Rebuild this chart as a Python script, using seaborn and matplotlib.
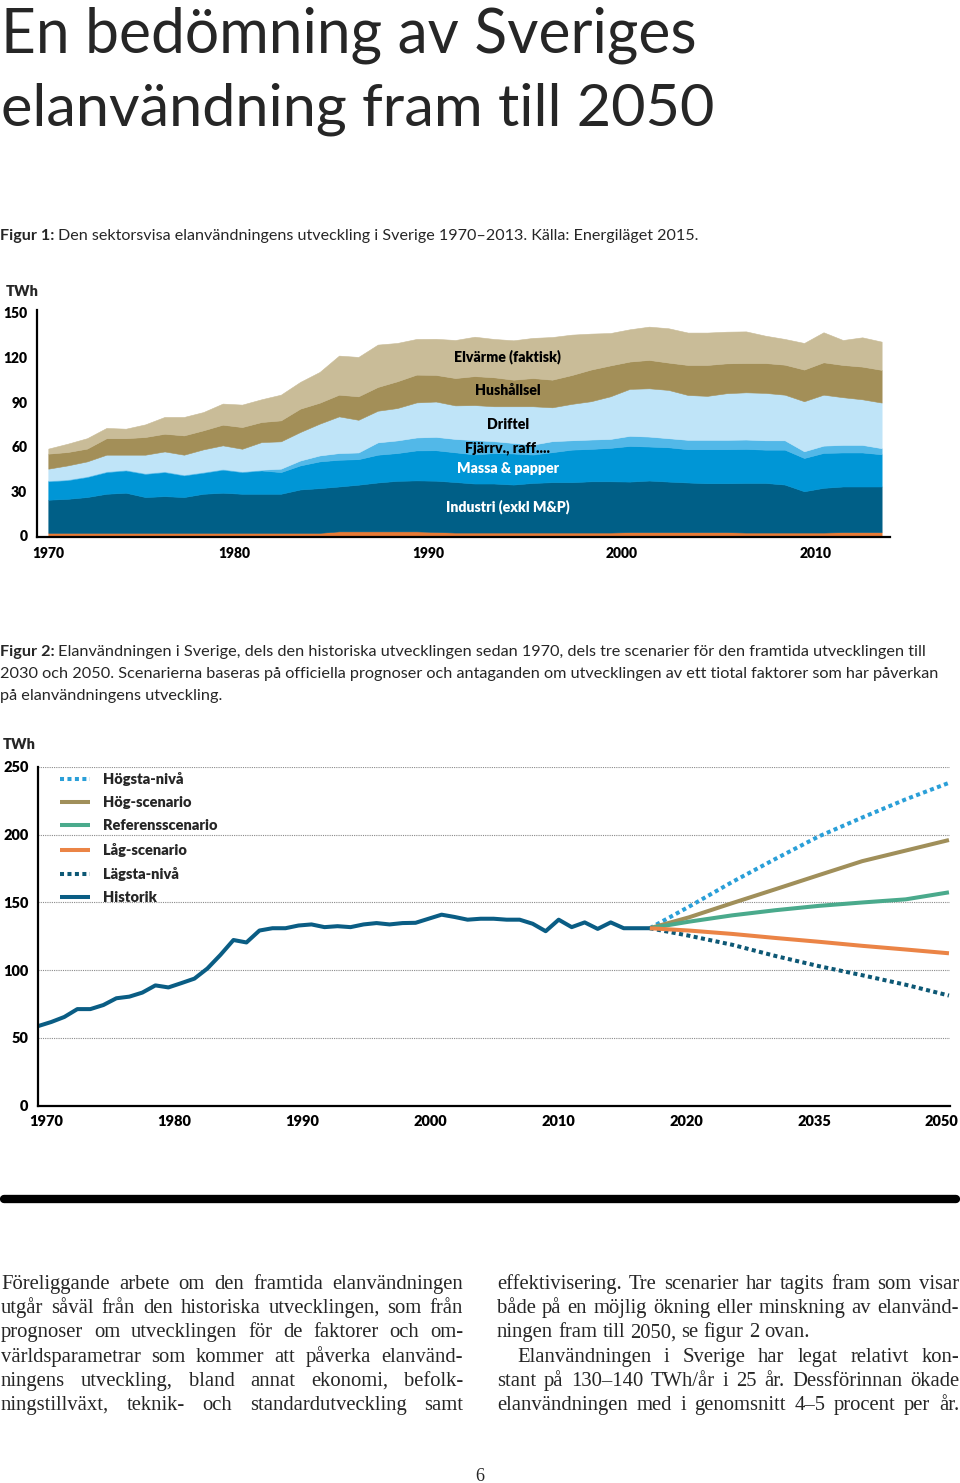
import numpy as np
import pandas as pd
import matplotlib
matplotlib.use('Agg')
import matplotlib.pyplot as plt
import matplotlib.transforms as mtransforms
from matplotlib.lines import Line2D
import seaborn as sns

W, H = 960, 1483

# ---------- Figur 1: sektorsvis elanvändning 1970-2013 (TWh) ----------
years1 = list(range(1970, 2014))
ovrigt = [2.0] * 15 + [3.0] * 5 + [2.6] + [2.2] * 9 + [2.5] * 6 + [2.2] * 5 + [2.5] * 3
industri = [22.3, 22.9, 24.1, 26.3, 27.0, 24.1, 24.7, 24.1, 26.3, 27.0,
            26.3, 26.3, 26.3, 29.2, 30.1, 30.2, 31.4, 32.9, 34.0, 34.3,
            34.5, 34.0, 33.0, 33.0, 32.3, 33.4, 33.9, 33.9, 34.5, 34.5,
            34.0, 34.7, 34.0, 33.4, 32.9, 32.9, 33.4, 33.4, 32.3, 27.8,
            30.1, 30.7, 30.7, 30.7]
massa_papper = [12.4, 12.6, 13.5, 14.6, 15.0, 15.6, 16.2, 14.6, 14.2, 15.5,
                14.6, 15.7, 14.6, 16.2, 18.0, 18.0, 17.2, 18.7, 18.7, 20.2,
                20.5, 20.0, 19.6, 20.5, 20.9, 19.1, 20.2, 21.9, 21.8, 22.5,
                24.0, 22.9, 23.1, 22.4, 22.9, 22.9, 22.9, 22.4, 23.5, 22.4,
                23.5, 22.9, 22.9, 21.7]
fjarrv_raff = [0.5] * 12 + [2.3, 3.3, 4.0, 4.5, 4.5, 8.3, 8.5, 8.7,
               9.0, 9.0, 9.6, 8.0, 7.1, 6.7, 7.4, 6.3, 6.3, 6.0,
               6.8, 6.7, 6.1, 6.3, 6.3, 6.3, 6.3, 6.3, 6.3, 4.5,
               4.9, 5.1, 5.1, 4.1]
driftel = [8.0, 9.4, 10.0, 11.2, 10.1, 12.4, 13.4, 13.4, 15.2, 15.9,
           15.2, 18.6, 18.4, 19.2, 21.4, 24.7, 22.0, 21.3, 21.8, 23.6,
           23.8, 22.6, 23.6, 23.5, 24.7, 25.8, 22.8, 24.5, 25.8, 28.7,
           31.6, 32.5, 32.5, 30.2, 29.6, 31.4, 31.8, 31.9, 30.7, 33.7,
           34.3, 32.1, 30.7, 30.7]
hushallsel = [10.1, 9.0, 8.6, 11.1, 11.1, 11.9, 11.9, 13.0, 12.8, 13.9,
              14.6, 13.5, 14.1, 15.7, 14.1, 14.6, 15.8, 16.0, 18.0, 18.7,
              17.9, 18.4, 19.5, 19.5, 17.9, 19.0, 18.6, 19.4, 21.3, 20.8,
              18.4, 19.1, 18.4, 20.2, 20.8, 20.1, 19.7, 20.1, 20.2, 21.3,
              21.8, 21.7, 22.0, 22.0]
elvarme = [3.4, 5.6, 7.0, 6.9, 6.4, 8.5, 11.3, 12.4, 12.3, 14.2,
           15.1, 15.3, 17.3, 18.0, 20.7, 26.3, 26.5, 28.5, 25.8, 24.0,
           24.3, 25.6, 26.5, 25.8, 26.5, 27.0, 28.7, 27.2, 24.2, 21.8,
           21.7, 22.4, 23.1, 21.8, 21.8, 21.3, 21.3, 18.4, 17.3, 17.9,
           20.2, 16.8, 19.7, 19.0]
sektor_namn = ['Övrigt', 'Industri (exkl M&P)', 'Massa & papper',
               'Fjärrv., raff....', 'Driftel', 'Hushållsel', 'Elvärme (faktisk)']
sektor_farg = ['#e87a35', '#005f87', '#0096d6', '#52b8e8', '#bfe4f8',
               '#a38f58', '#c9bc98']
x1_ticks = [1970, 1980, 1990, 2000, 2010]

# ---------- Figur 2: historik och scenarier (TWh) ----------
hist_years = list(range(1970, 2018))
historik = [58.8, 61.8, 65.5, 71.3, 71.3, 74.3, 79.3, 80.5, 83.5, 88.8,
            87.3, 90.5, 93.8, 101.3, 111.3, 122.3, 120.5, 129.3, 131.0, 131.0,
            133.0, 133.8, 131.8, 132.5, 131.8, 133.8, 134.8, 133.8, 134.8, 135.0,
            138.0, 141.0, 139.3, 137.3, 138.0, 138.0, 137.3, 137.3, 134.3, 128.8,
            137.3, 131.8, 135.3, 130.5, 135.3, 131.0, 131.0, 131.0]
scen_years = [2017, 2020, 2025, 2030, 2035, 2040, 2045, 2050]
hogsta = [131.0, 146.8, 165.1, 182.2, 198.8, 212.7, 226.1, 238.3]
hog = [131.0, 139.0, 149.5, 159.8, 170.2, 180.5, 188.3, 196.1]
referens = [131.0, 135.8, 140.5, 144.3, 147.5, 150.0, 152.3, 157.5]
lag = [131.0, 129.3, 126.8, 123.8, 121.0, 118.0, 115.3, 112.5]
lagsta = [131.0, 125.5, 118.8, 110.5, 103.0, 96.3, 89.3, 81.3]
x2_ticks = [1970, 1980, 1990, 2000, 2010, 2020, 2035, 2050]

sns.set_theme(style='white')
plt.rcParams['font.family'] = ['Lato', 'DejaVu Sans']
plt.rcParams['axes.linewidth'] = 1.5
SERIF = ['Liberation Serif', 'DejaVu Serif']
HEAVY = 'heavy'

fig = plt.figure(figsize=(W / 100, H / 100), dpi=100)
renderer = fig.canvas.get_renderer()


def fx(x):
    return x / W


def fy(y):
    return 1 - y / H


def width_of(t):
    return t.get_window_extent(renderer).width


def fit_text(x, y, s, right, size=10, **kw):
    t = fig.text(fx(x), fy(y), s, fontsize=size, va='baseline', **kw)
    t.set_fontsize(size * (right - x) / width_of(t))
    return t


def caption(x, y, bold, rest, size):
    b = fig.text(fx(x), fy(y), bold, fontsize=size, weight='bold', va='baseline')
    wb = width_of(b)
    fig.text(fx(x + wb + size * 0.3), fy(y), rest, fontsize=size, va='baseline')


def shift_labels(labels, offsets):
    for lab, dx in zip(labels, offsets):
        lab.set_transform(lab.get_transform() +
                          mtransforms.ScaledTranslation(dx / 100, 0, fig.dpi_scale_trans))


# ---------- title ----------
fit_text(1, 52, 'En bedömning av Sveriges', 697, weight='normal')
fit_text(1, 125, 'elanvändning fram till 2050', 714, weight='normal')

# ---------- Figur 1 ----------
probe = fig.text(0, 0, 'Figur 1: Den sektorsvisa elanvändningens utveckling i Sverige '
                 '1970–2013. Källa: Energiläget 2015.', fontsize=10)
cap_size = 10 * 697 / width_of(probe)
probe.remove()
caption(0, 240, 'Figur 1:', 'Den sektorsvisa elanvändningens utveckling i Sverige '
        '1970–2013. Källa: Energiläget 2015.', cap_size)

px_year1 = 19.38
ax1 = fig.add_axes([fx(37), fy(537), (890 - 37) / W, (537 - 310) / H])
df1 = pd.DataFrame({'år': years1, 'Övrigt': ovrigt, 'Industri (exkl M&P)': industri,
                    'Massa & papper': massa_papper, 'Fjärrv., raff....': fjarrv_raff,
                    'Driftel': driftel, 'Hushållsel': hushallsel,
                    'Elvärme (faktisk)': elvarme})
ax1.stackplot(df1['år'], *[df1[c] for c in sektor_namn], colors=sektor_farg,
              edgecolor='face', linewidth=0.4)
ax1.set_xlim(1970 - 11.3 / px_year1, 1970 + (890 - 48.3) / px_year1)
ax1.set_ylim(-0.8, 152)
ax1.set_yticks([0, 30, 60, 90, 120, 150])
ax1.set_xticks(x1_ticks)
ax1.tick_params(axis='both', length=0, labelsize=10, colors='black')
ax1.tick_params(axis='y', pad=7)
ax1.tick_params(axis='x', pad=7)
for lab in ax1.get_xticklabels() + ax1.get_yticklabels():
    lab.set_fontweight(HEAVY)
shift_labels(ax1.get_xticklabels(), [0, -8, -8, -8, -8])
for s in ['top', 'right']:
    ax1.spines[s].set_visible(False)
for s in ['left', 'bottom']:
    ax1.spines[s].set_color('black')
    ax1.spines[s].set_linewidth(1.6)
ax1.set_facecolor('none')
lab_x = 1993.7
for txt, yv, col in [('Elvärme (faktisk)', 120.4, 'black'), ('Hushållsel', 97.5, 'black'),
                     ('Driftel', 74.6, 'black'), ('Fjärrv., raff....', 59.2, 'black'),
                     ('Massa & papper', 45.0, 'white'), ('Industri (exkl M&P)', 19.5, 'white')]:
    ax1.text(lab_x, yv, txt, ha='center', va='center', fontsize=10.2,
             weight=HEAVY, color=col)
fig.text(fx(6), fy(291), 'TWh', fontsize=10.5, weight=HEAVY, va='center')

# ---------- Figur 2 ----------
cap2 = [('Figur 2:', 'Elanvändningen i Sverige, dels den historiska utvecklingen sedan 1970, '
         'dels tre scenarier för den framtida utvecklingen till'),
        ('', '2030 och 2050. Scenarierna baseras på officiella prognoser och antaganden om '
         'utvecklingen av ett tiotal faktorer som har påverkan'),
        ('', 'på elanvändningens utveckling.')]
probe = fig.text(0, 0, cap2[1][1], fontsize=10)
cap2_size = 10 * 940 / width_of(probe)
probe.remove()
for i, (b, r) in enumerate(cap2):
    yy = 656 + 22 * i
    if b:
        caption(0, yy, b, r, cap2_size)
    else:
        fig.text(0, fy(yy), r, fontsize=cap2_size, va='baseline')


def fwd(yr):
    yr = np.asarray(yr, dtype=float)
    return np.where(yr <= 2020, yr - 1970, 50 + (yr - 2020) / 1.5)


def inv(p):
    p = np.asarray(p, dtype=float)
    return np.where(p <= 50, p + 1970, 2020 + (p - 50) * 1.5)


ax2 = fig.add_axes([fx(38.3), fy(1105.7), (950 - 38.3) / W, (1105.7 - 767) / H])
dot = (0, (1, 0.85))
series = [('Högsta-nivå', scen_years, hogsta, '#2a9fd8', dot),
          ('Hög-scenario', scen_years, hog, '#a08f5a', '-'),
          ('Referensscenario', scen_years, referens, '#4aaa8c', '-'),
          ('Lägsta-nivå', scen_years, lagsta, '#0d5875', dot),
          ('Låg-scenario', scen_years, lag, '#eb8446', '-'),
          ('Historik', hist_years, historik, '#0a5d84', '-')]
handles = {}
for name, xs, ys, col, ls in series:
    sns.lineplot(x=xs, y=ys, ax=ax2, color=col, linestyle=ls, linewidth=2.9,
                 dash_capstyle='butt', solid_capstyle='butt', label=name)
    handles[name] = ax2.lines[-1]
ax2.set_xscale('function', functions=(fwd, inv))
ax2.set_xlim(1970, float(inv(70.08)))
ax2.set_ylim(0, 250)
ax2.set_xticks(x2_ticks)
ax2.set_xticklabels([str(v) for v in x2_ticks])
ax2.set_yticks([0, 50, 100, 150, 200, 250])
ax2.yaxis.grid(True, color='#8a8a8a', linestyle=(0, (1, 1)), linewidth=0.8)
ax2.xaxis.grid(False)
ax2.set_axisbelow(True)
ax2.tick_params(axis='both', length=0, labelsize=10.5, colors='black')
ax2.tick_params(axis='y', pad=7)
ax2.tick_params(axis='x', pad=7)
for lab in ax2.get_xticklabels() + ax2.get_yticklabels():
    lab.set_fontweight(HEAVY)
shift_labels(ax2.get_xticklabels(), [7.7, 5.6, 3.5, 1.4, -0.7, -2.8, -4.9, -8])
for s in ['top', 'right']:
    ax2.spines[s].set_visible(False)
for s in ['left', 'bottom']:
    ax2.spines[s].set_color('black')
    ax2.spines[s].set_linewidth(1.6)
ax2.set_facecolor('none')
order = ['Högsta-nivå', 'Hög-scenario', 'Referensscenario', 'Låg-scenario',
         'Lägsta-nivå', 'Historik']
leg_size = 10.5
fs_px = leg_size * 100 / 72
leg = ax2.legend([handles[n] for n in order], order, loc='upper left',
                 bbox_to_anchor=(fx(60), fy(772)), bbox_transform=fig.transFigure,
                 frameon=False, borderpad=0, borderaxespad=0,
                 handlelength=30 / fs_px, handletextpad=13 / fs_px,
                 labelspacing=0.70, prop={'weight': HEAVY, 'size': leg_size})
fig.text(fx(3), fy(745), 'TWh', fontsize=10.5, weight=HEAVY, va='center')

# ---------- black rule ----------
fig.add_artist(Line2D([fx(4), fx(956)], [fy(1199), fy(1199)], lw=6, color='black',
                      solid_capstyle='round', transform=fig.transFigure))

# ---------- body text ----------
left_col = ['Föreliggande arbete om den framtida elanvändningen',
            'utgår såväl från den historiska utvecklingen, som från',
            'prognoser om utvecklingen för de faktorer och om-',
            'världsparametrar som kommer att påverka elanvänd-',
            'ningens utveckling, bland annat ekonomi, befolk-',
            'ningstillväxt, teknik- och standardutveckling samt']
right_col = ['effektivisering. Tre scenarier har tagits fram som visar',
             'både på en möjlig ökning eller minskning av elanvänd-',
             'ningen fram till 2050, se figur 2 ovan.',
             'Elanvändningen i Sverige har legat relativt kon-',
             'stant på 130–140 TWh/år i 25 år. Dessförinnan ökade',
             'elanvändningen med i genomsnitt 4–5 procent per år.']
ratios = []
for s in left_col + [right_col[i] for i in (0, 1, 4, 5)]:
    probe = fig.text(0, 0, s, fontsize=10, family=SERIF)
    ratios.append(462 / width_of(probe))
    probe.remove()
body_size = 10 * min(ratios) * 0.985
space_px = body_size * 100 / 72 * 0.25


def body_line(s, x0, x1, y, justify=True):
    words = s.split(' ')
    texts = [fig.text(0, fy(y), w, fontsize=body_size, family=SERIF, va='baseline')
             for w in words]
    widths = [width_of(t) for t in texts]
    gap = space_px
    if justify and len(words) > 1:
        gap = (x1 - x0 - sum(widths)) / (len(words) - 1)
    x = x0
    for t, w in zip(texts, widths):
        t.set_x(fx(x))
        x += w + gap


for i, s in enumerate(left_col):
    body_line(s, 1, 463, 1289 + 24.2 * i)
for i, s in enumerate(right_col):
    x0 = 517 if i == 3 else 497
    body_line(s, x0, 959, 1289 + 24.2 * i, justify=(i != 2))

fig.text(fx(480), fy(1481), '6', fontsize=13, family=SERIF, ha='center', va='baseline')

fig.savefig('out.png', dpi=100)
plt.close('all')
